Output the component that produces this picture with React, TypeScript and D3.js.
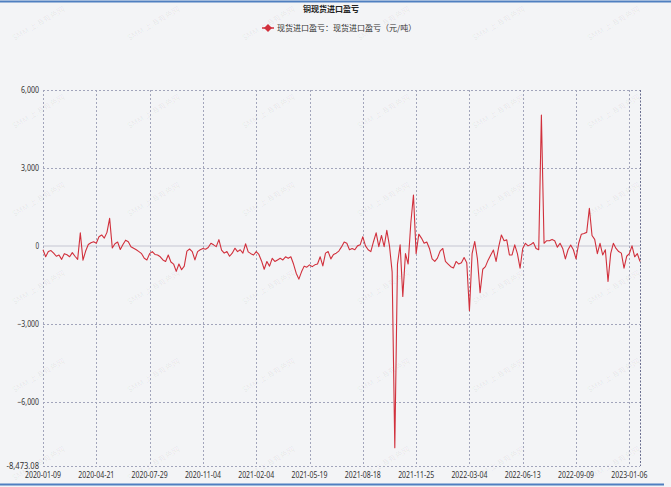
import { useEffect, useRef } from 'react'
import * as d3 from 'd3'

// tick labels on the category axis (one every 20 points)
const tickDates = [
  '2020-01-09', '2020-04-21', '2020-07-29', '2020-11-04', '2021-02-04', '2021-05-19',
  '2021-08-18', '2021-11-25', '2022-03-04', '2022-06-13', '2022-09-09', '2023-01-06',
]
const tickStep = 20

// 现货进口盈亏 (元/吨)
const profit = [
  -150, -420, -220, -180, -280, -400, -350, -520, -300, -340, -420, -260, -400, -520, 500, -550, -200, 50, 120, 160,
  100, 350, 420, 300, 520, 1060, -80, 80, 150, -140, 50, 220, 160, -30, -90, -150, -220, -300, -480, -540,
  -300, -220, -330, -350, -420, -540, -600, -350, -620, -700, -980, -700, -920, -780, -200, -120, -220, -540, -220, -150,
  -100, -130, -60, 100, 40, -30, 240, -160, -280, -220, -400, -280, -90, -220, -150, -280, 80, -230, -300, -350,
  -220, -330, -580, -900, -600, -780, -480, -600, -540, -480, -540, -420, -480, -420, -700, -1050, -1280, -1000, -780, -820,
  -730, -800, -730, -700, -420, -770, -280, -220, -500, -330, -280, -200, -40, 150, 100, -150, -100, -150, 0, 40,
  350, 0, -150, -220, 160, 500, -30, 400, -30, 600, 0, -1000, -7770, -700, 40, -1950, -300, -700, 870, 1960,
  -300, 450, 300, 100, 150, -100, -500, -600, -470, -200, -100, -600, -700, -800, -850, -600, -700, -650, -450, -650,
  -2500, -300, 170, -500, -1800, -900, -800, -550, -350, -160, -600, -30, 420, 200, 230, -350, -350, 40, -300, -860,
  -100, 100, 0, 50, 130, -100, -150, 5040, 100, 200, 200, 250, 200, -50, 100, -100, -500, -150, 30, -150,
  -500, 100, 450, 480, 520, 1450, 400, 250, -300, 100, -350, -150, -1370, -300, 100, -100, -220, -280, -860, -400,
  -300, 0, -420, -300, -600,
]

const yTicks = [6000, 3000, 0, -3000, -6000]
const yMin = -8473.08
const yMax = 6000

const title = '铜现货进口盈亏'
const legendLabel = '现货进口盈亏：现货进口盈亏（元/吨）'
const watermark = 'SMM 上海有色网'

const W = 671
const H = 487
const numFont = '"Noto Sans", sans-serif'
const cjkFont = '"Noto Sans CJK SC", sans-serif'

export default function App() {
  const ref = useRef<SVGSVGElement | null>(null)

  useEffect(() => {
    const svg = d3.select(ref.current)
    svg.selectAll('*').remove()

    const left = 43, right = 640, top = 90, bottom = 466

    svg.append('rect').attr('width', W).attr('height', H).attr('fill', '#f3f4f6')

    // blue strips top & bottom
    svg.append('line').attr('x1', 0).attr('x2', W).attr('y1', 1.5).attr('y2', 1.5)
      .attr('stroke', '#4f7fc0').attr('stroke-width', 2)
    svg.append('line').attr('x1', 0).attr('x2', 664).attr('y1', 484.5).attr('y2', 484.5)
      .attr('stroke', '#4f7fc0').attr('stroke-width', 2)

    // watermarks
    const wm = svg.append('g')
    d3.range(6).forEach((r) => {
      d3.range(6).forEach((c) => {
        wm.append('text')
          .attr('transform', `translate(${40 + c * 115},${26 + r * 88}) rotate(-30)`)
          .attr('text-anchor', 'middle')
          .attr('font-family', cjkFont)
          .attr('font-size', 8)
          .attr('fill', '#000')
          .attr('fill-opacity', 0.06)
          .text(watermark)
      })
    })

    const x = d3.scaleLinear().domain([0, profit.length - 1]).range([left, right])
    const y = d3.scaleLinear().domain([yMin, yMax]).range([bottom, top])

    const grid = svg.append('g')
    const gridColor = '#a2a5bb'

    // horizontal grid
    grid.selectAll('.hgrid')
      .data(yTicks.filter((d) => d !== 0))
      .enter()
      .append('line')
      .attr('x1', left).attr('x2', right)
      .attr('y1', (d) => Math.round(y(d)) + 0.5).attr('y2', (d) => Math.round(y(d)) + 0.5)
      .attr('stroke', gridColor).attr('stroke-dasharray', '2,2')

    grid.append('line')
      .attr('x1', left).attr('x2', right)
      .attr('y1', y(yMin) + 0.5).attr('y2', y(yMin) + 0.5)
      .attr('stroke', gridColor).attr('stroke-dasharray', '2,2')

    grid.append('line')
      .attr('x1', left).attr('x2', right)
      .attr('y1', y(0)).attr('y2', y(0))
      .attr('stroke', '#dcdde4').attr('stroke-width', 2)

    // vertical grid
    const tickIdx = tickDates.map((_, i) => i * tickStep)
    grid.selectAll('.vgrid')
      .data(tickIdx)
      .enter()
      .append('line')
      .attr('x1', (d) => Math.round(x(d)) + 0.5).attr('x2', (d) => Math.round(x(d)) + 0.5)
      .attr('y1', top).attr('y2', bottom)
      .attr('stroke', gridColor).attr('stroke-dasharray', '2,2')

    grid.append('line')
      .attr('x1', right + 0.5).attr('x2', right + 0.5)
      .attr('y1', top).attr('y2', bottom)
      .attr('stroke', '#6a6f90').attr('stroke-dasharray', '2,1.5')

    // y labels
    const fmt = d3.format(',')
    const yLabel = (d: number) => (d === yMin ? '-8,473.08' : fmt(d))
    svg.append('g')
      .selectAll('text')
      .data([...yTicks, yMin])
      .enter()
      .append('text')
      .attr('x', left - 4)
      .attr('y', (d) => y(d) + 3)
      .attr('text-anchor', 'end')
      .attr('font-family', numFont)
      .attr('font-size', 8.5)
      .attr('fill', '#333')
      .attr('textLength', (d) => yLabel(d).length * 3.6)
      .attr('lengthAdjust', 'spacingAndGlyphs')
      .text(yLabel)

    // x labels
    svg.append('g')
      .selectAll('text')
      .data(tickIdx)
      .enter()
      .append('text')
      .attr('x', (d) => x(d))
      .attr('y', bottom + 12)
      .attr('text-anchor', 'middle')
      .attr('font-family', numFont)
      .attr('font-size', 8.5)
      .attr('fill', '#333')
      .attr('textLength', 36)
      .attr('lengthAdjust', 'spacingAndGlyphs')
      .text((d, i) => tickDates[i])

    // the series
    const line = d3.line<number>()
      .x((d, i) => x(i))
      .y((d) => y(d))

    svg.append('path')
      .datum(profit)
      .attr('d', line)
      .attr('fill', 'none')
      .attr('stroke', '#d1303c')
      .attr('stroke-width', 1.1)
      .attr('stroke-linejoin', 'round')

    // title + legend
    svg.append('text')
      .attr('x', 331).attr('y', 12)
      .attr('text-anchor', 'middle')
      .attr('font-family', cjkFont)
      .attr('font-size', 8)
      .attr('font-weight', 'bold')
      .attr('fill', '#222')
      .text(title)

    const lg = svg.append('g').attr('transform', 'translate(262,28)')
    lg.append('line').attr('x1', 0).attr('x2', 12).attr('y1', 0).attr('y2', 0)
      .attr('stroke', '#d1303c').attr('stroke-width', 1.5)
    lg.append('path').attr('d', 'M6,-4L10,0L6,4L2,0Z').attr('fill', '#d1303c')
    lg.append('text')
      .attr('x', 15).attr('y', 3)
      .attr('font-family', cjkFont)
      .attr('font-size', 8)
      .attr('fill', '#333')
      .text(legendLabel)
  }, [])

  return (
    <svg ref={ref} width={W} height={H}
      style={{ position: 'absolute', left: 0, top: 0, display: 'block' }} />
  )
}
